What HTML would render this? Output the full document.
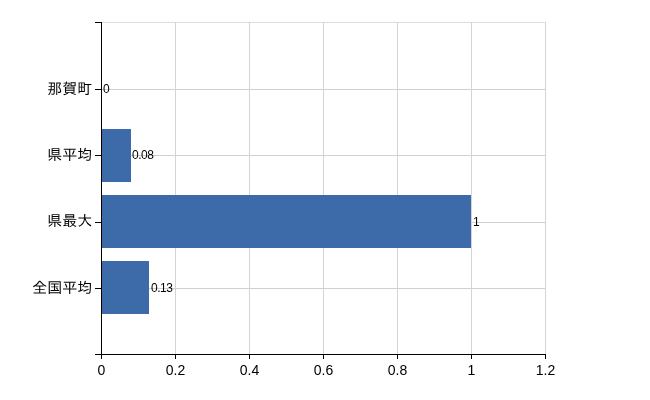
<!DOCTYPE html>
<html lang="ja">
<head>
<meta charset="utf-8">
<title>chart</title>
<style>
html,body{margin:0;padding:0;background:#fff;}
body{width:650px;height:400px;overflow:hidden;position:relative;}
svg{position:absolute;left:0;top:0;display:block;}
.ax{font-family:"Liberation Sans","IPAGothic",sans-serif;font-size:14px;fill:#000;}
.cat{font-family:"Liberation Sans","IPAGothic",sans-serif;font-size:15px;fill:#000;}
.val{font-family:"Liberation Sans","IPAGothic",sans-serif;font-size:12px;fill:#000;letter-spacing:-0.45px;}
</style>
</head>
<body>
<svg width="650" height="400" viewBox="0 0 650 400">
  <rect x="0" y="0" width="650" height="400" fill="#ffffff"/>
  <!-- grid -->
  <g shape-rendering="crispEdges" fill="#cad4cc">
    <rect x="102" y="22" width="444" height="1" fill="#dbe0db"/>
    <rect x="102" y="89" width="444" height="1"/>
    <rect x="102" y="155" width="444" height="1"/>
    <rect x="102" y="222" width="444" height="1"/>
    <rect x="102" y="288" width="444" height="1"/>
    <rect x="175" y="22" width="1" height="332" fill="#d3d4d3"/>
    <rect x="249" y="22" width="1" height="332" fill="#d3d4d3"/>
    <rect x="323" y="22" width="1" height="332" fill="#d3d4d3"/>
    <rect x="397" y="22" width="1" height="332" fill="#d3d4d3"/>
    <rect x="471" y="22" width="1" height="332" fill="#d3d4d3"/>
    <rect x="545" y="22" width="1" height="332" fill="#d3d4d3"/>
  </g>
  <!-- bars -->
  <g shape-rendering="crispEdges" fill="#3d6aa9">
    <rect x="102" y="129" width="29" height="53"/>
    <rect x="102" y="195" width="369" height="53"/>
    <rect x="102" y="261" width="47" height="53"/>
  </g>
  <!-- axes -->
  <g shape-rendering="crispEdges" fill="#000">
    <rect x="101" y="22" width="1" height="333"/>
    <rect x="95" y="354" width="451" height="1"/>
    <rect x="95" y="22" width="6" height="1"/>
    <rect x="95" y="89" width="6" height="1"/>
    <rect x="95" y="155" width="6" height="1"/>
    <rect x="95" y="222" width="6" height="1"/>
    <rect x="95" y="288" width="6" height="1"/>
    <rect x="101" y="354" width="1" height="5"/>
    <rect x="175" y="354" width="1" height="5"/>
    <rect x="249" y="354" width="1" height="5"/>
    <rect x="323" y="354" width="1" height="5"/>
    <rect x="397" y="354" width="1" height="5"/>
    <rect x="471" y="354" width="1" height="5"/>
    <rect x="545" y="354" width="1" height="5"/>
  </g>
  <!-- x axis labels -->
  <g class="ax" text-anchor="middle">
    <text x="101.5" y="375">0</text>
    <text x="175.5" y="375">0.2</text>
    <text x="249.5" y="375">0.4</text>
    <text x="323.5" y="375">0.6</text>
    <text x="397.5" y="375">0.8</text>
    <text x="471.5" y="375">1</text>
    <text x="545.5" y="375">1.2</text>
  </g>
  <!-- category labels -->
  <g class="cat" text-anchor="end">
    <text x="92.3" y="94">那賀町</text>
    <text x="92.3" y="160">県平均</text>
    <text x="92.3" y="226">県最大</text>
    <text x="92.3" y="293">全国平均</text>
  </g>
  <!-- value labels -->
  <g class="val">
    <text x="103" y="93">0</text>
    <text x="132" y="159">0.08</text>
    <text x="473" y="226">1</text>
    <text x="151" y="292">0.13</text>
  </g>
</svg>
</body>
</html>
